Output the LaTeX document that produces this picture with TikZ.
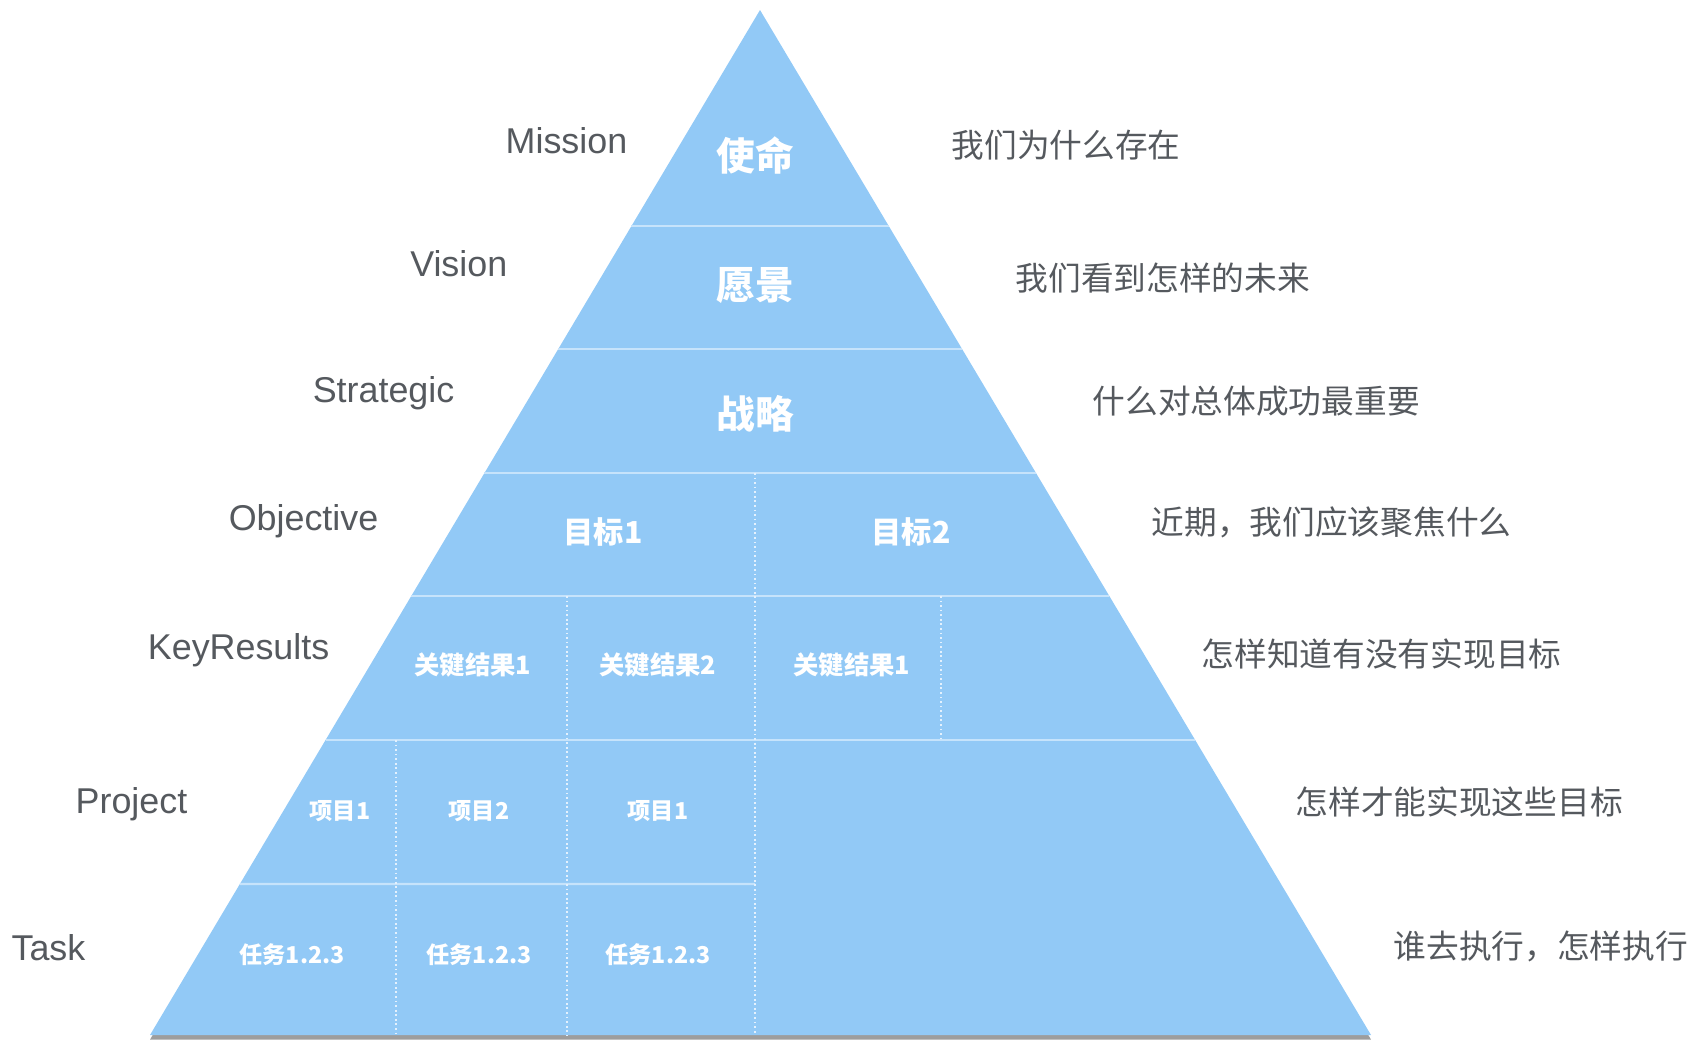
\documentclass[tikz,border=0pt]{standalone}
\usepackage{fontspec}
\setmainfont{Noto Sans CJK SC}
\newfontfamily\latinfont{Liberation Sans}
\usetikzlibrary{calc, shadows}
\definecolor{PyramidBlue}{HTML}{92C9F6}
\definecolor{DividerBlue}{HTML}{C6E3FB}
\definecolor{LabelGray}{HTML}{55595E}
\tikzset{
  levellabel/.style={anchor=base east, inner sep=0pt, text=LabelGray, font=\latinfont\fontsize{10.2pt}{12pt}\selectfont},
  questiontext/.style={anchor=base west, inner sep=0pt, text=LabelGray, font=\fontsize{9.3pt}{11pt}\selectfont},
  celltext/.style={anchor=base, inner sep=0pt, text=white, font=\bfseries\fontsize{#1}{#1}\selectfont},
  divider/.style={DividerBlue, line width=0.6pt},
  dotline/.style={white!75!PyramidBlue, line width=0.5pt, dash pattern=on 0.5pt off 0.8pt}
}

\begin{document}
\begin{tikzpicture}[x=0.01cm, y=-0.01cm]
  \useasboundingbox (0,0) rectangle (1698,1048);

  % Pyramid
  \coordinate (apex) at (760,10);
  \coordinate (bl) at (150,1035);
  \coordinate (br) at (1371,1035);
  \fill[PyramidBlue, drop shadow={shadow xshift=0pt, shadow yshift=-1.3pt, opacity=0.55, fill=black!70}] (apex) -- (bl) -- (br) -- cycle;

  % Rows
  \foreach \y in {226,349,473,596,740} {
    \draw[divider] ($(apex)!{(\y-10)/1025}!(bl)$) -- ($(apex)!{(\y-10)/1025}!(br)$);
  }
  \coordinate (split) at (755,884);
  \draw[divider] ($(apex)!{(884-10)/1025}!(bl)$) -- (split);

  % Columns
  \foreach \x/\top/\bottom in {755/473/1035, 567/596/1035, 941/596/740, 396/740/1035} {
    \draw[dotline] (\x,\top) -- (\x,\bottom);
  }

  % Cell texts
  \foreach \name/\x/\y/\size/\txt in {
    mission/755/170/11pt/使命,
    vision/755/299/11pt/愿景,
    strategy/755/428/11pt/战略,
    obj1/603/543/8.6pt/目标1,
    obj2/911/543/8.6pt/目标2,
    kr1/473/674/7.2pt/关键结果1,
    kr2/658/674/7.2pt/关键结果2,
    kr3/852/674/7.2pt/关键结果1,
    proj1/340/819/6.6pt/项目1,
    proj2/479/819/6.6pt/项目2,
    proj3/658/819/6.6pt/项目1,
    task1/292/963/6.6pt/任务1.2.3,
    task2/479/963/6.6pt/任务1.2.3,
    task3/658/963/6.6pt/任务1.2.3
  } {
    \node[celltext=\size] (\name) at (\x,\y) {\txt};
  }

  % Level names
  \foreach \name/\x/\y/\txt in {
    lmission/628/153/Mission,
    lvision/508/276/Vision,
    lstrategic/455/402/Strategic,
    lobjective/379/530/Objective,
    lkr/330/659/KeyResults,
    lproject/188/813/Project,
    ltask/86/960/Task
  } {
    \node[levellabel] (\name) at (\x,\y) {\txt};
  }

  % Questions
  \foreach \name/\x/\y/\txt in {
    qmission/951/157/我们为什么存在,
    qvision/1015/290/我们看到怎样的未来,
    qstrategic/1092/413/什么对总体成功最重要,
    qobjective/1151/534/{近期，我们应该聚焦什么},
    qkr/1201/666/怎样知道有没有实现目标,
    qproject/1295/814/怎样才能实现这些目标,
    qtask/1393/958/{谁去执行，怎样执行}
  } {
    \node[questiontext] (\name) at (\x,\y) {\txt};
  }
\end{tikzpicture}
\end{document}
